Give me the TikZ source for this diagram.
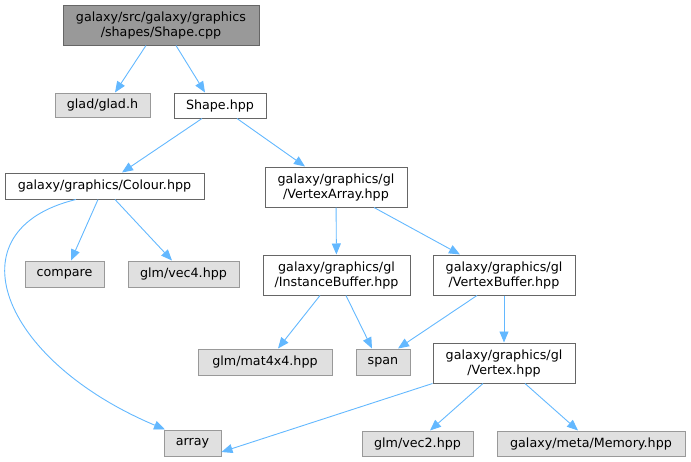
\documentclass[tikz,border=0pt]{standalone}
\usepackage{fontspec}
\setmainfont{DejaVu Sans}
\usetikzlibrary{arrows.meta}
\definecolor{edgeblue}{HTML}{63B8FF}
\definecolor{darkborder}{HTML}{666666}
\definecolor{lightborder}{HTML}{999999}
\definecolor{sysfill}{HTML}{E0E0E0}
\definecolor{srcfill}{HTML}{999999}
\begin{document}
\begin{tikzpicture}[x=1pt, y=-1pt,
	every node/.style={font=\fontsize{12.7}{15}\selectfont, inner sep=0pt, align=center},
	srcbox/.style={draw=darkborder, fill=srcfill, line width=1pt},
	hdrbox/.style={draw=darkborder, fill=white, line width=1pt},
	sysbox/.style={draw=lightborder, fill=sysfill, line width=1pt},
	inc/.style={draw=edgeblue, line width=0.9pt, -{Triangle[length=11pt,width=9pt]}}]
	\useasboundingbox (0,0) rectangle (691,461);

	\node[srcbox, minimum width=196pt, minimum height=40pt] (cpp) at (161,25) {galaxy/src/galaxy/graphics\\/shapes/Shape.cpp};
	\node[sysbox, minimum width=95pt, minimum height=24pt] (glad) at (102.5,105) {glad/glad.h};
	\node[hdrbox, minimum width=92pt, minimum height=25pt] (shape) at (220,105.5) {Shape.hpp};
	\node[hdrbox, minimum width=199pt, minimum height=26pt] (colour) at (104.5,186) {galaxy/graphics/Colour.hpp};
	\node[hdrbox, minimum width=142pt, minimum height=40pt] (varray) at (336,187) {galaxy/graphics/gl\\/VertexArray.hpp};
	\node[sysbox, minimum width=79pt, minimum height=26pt] (compare) at (64.5,274) {compare};
	\node[sysbox, minimum width=111pt, minimum height=26pt] (vecfour) at (183.5,274) {glm/vec4.hpp};
	\node[hdrbox, minimum width=147pt, minimum height=40pt] (ibuf) at (336.5,275) {galaxy/graphics/gl\\/InstanceBuffer.hpp};
	\node[hdrbox, minimum width=142pt, minimum height=40pt] (vbuf) at (504,275) {galaxy/graphics/gl\\/VertexBuffer.hpp};
	\node[sysbox, minimum width=134pt, minimum height=26pt] (mat) at (265,362) {glm/mat4x4.hpp};
	\node[sysbox, minimum width=54pt, minimum height=26pt] (span) at (383,362) {span};
	\node[hdrbox, minimum width=142pt, minimum height=40pt] (vertex) at (504,363) {galaxy/graphics/gl\\/Vertex.hpp};
	\node[sysbox, minimum width=57pt, minimum height=26pt] (array) at (192.5,443) {array};
	\node[sysbox, minimum width=111pt, minimum height=25pt] (vectwo) at (417.5,443.5) {glm/vec2.hpp};
	\node[sysbox, minimum width=188pt, minimum height=25pt] (memory) at (591,443.5) {galaxy/meta/Memory.hpp};

	\draw[inc] ([xshift=-15pt]cpp.south) -- ([xshift=12.5pt]glad.north);
	\draw[inc] ([xshift=15pt]cpp.south) -- ([xshift=-15pt]shape.north);
	\draw[inc] ([xshift=-18pt]shape.south) -- ([xshift=17.5pt]colour.north);
	\draw[inc] ([xshift=17pt]shape.south) -- ([xshift=-31pt]varray.north);
	\draw[inc] ([xshift=-28.5pt]colour.south) .. controls (-50,230) and (0,360) .. ([xshift=-27.5pt]array.north);
	\draw[inc] ([xshift=-6.5pt]colour.south) -- ([xshift=6.5pt]compare.north);
	\draw[inc] ([xshift=10.5pt]colour.south) -- ([xshift=-11.5pt]vecfour.north);
	\draw[inc] (varray) -- (ibuf);
	\draw[inc] ([xshift=38pt]varray.south) -- ([xshift=-44pt]vbuf.north);
	\draw[inc] ([xshift=-16.5pt]ibuf.south) -- ([xshift=13pt]mat.north);
	\draw[inc] ([xshift=9.5pt]ibuf.south) -- ([xshift=-11pt]span.north);
	\draw[inc] ([xshift=-27pt]vbuf.south) -- ([xshift=15pt]span.north);
	\draw[inc] (vbuf) -- (vertex);
	\draw[inc] (vertex.south west) -- ([yshift=-9pt]array.east);
	\draw[inc] ([xshift=-21pt]vertex.south) -- ([xshift=12.5pt]vectwo.north);
	\draw[inc] ([xshift=21pt]vertex.south) -- ([xshift=-13pt]memory.north);
\end{tikzpicture}
\end{document}
